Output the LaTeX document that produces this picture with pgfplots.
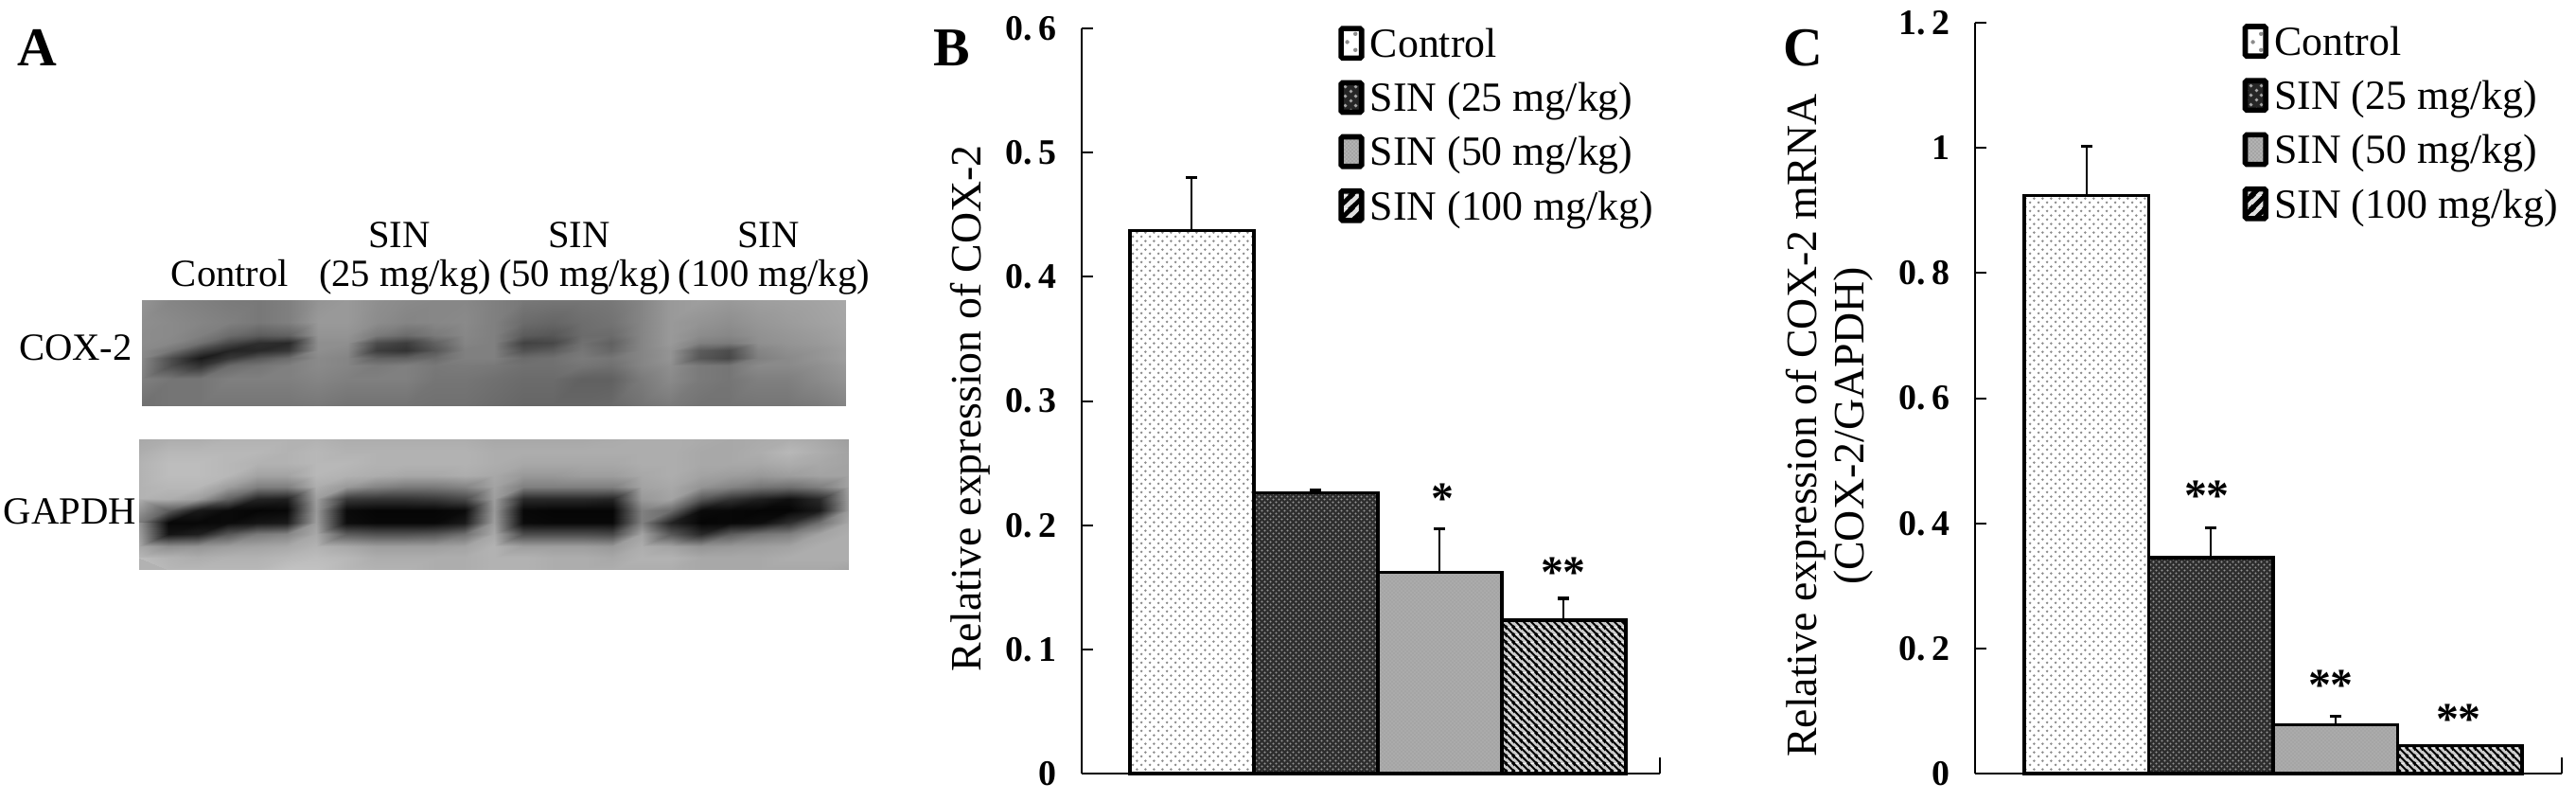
\documentclass[border=0pt]{standalone}
\usepackage{fontspec}
\setmainfont{Liberation Serif}
\usepackage{pgfplots}
\pgfplotsset{compat=1.18}
\usetikzlibrary{patterns}

% name, background, dot colour, tile, dot radius
\newcommand\dotpat[5]{%
  \pgfdeclarepatterninherentlycolored{#1}{\pgfqpoint{0bp}{0bp}}{\pgfqpoint{#4}{#4}}{\pgfqpoint{#4}{#4}}{%
    \pgfsetfillcolor{#2}\pgfpathrectangle{\pgfqpoint{0bp}{0bp}}{\pgfqpoint{#4}{#4}}\pgfusepath{fill}%
    \pgfsetfillcolor{#3}%
    \pgfpathcircle{\pgfqpoint{\dimexpr#4/4\relax}{\dimexpr#4/4\relax}}{#5}%
    \pgfpathcircle{\pgfqpoint{\dimexpr#4*3/4\relax}{\dimexpr#4*3/4\relax}}{#5}%
    \pgfusepath{fill}}}
% name, background, tile, line width: lines falling to the right
\newcommand\stripepat[4]{%
  \pgfdeclarepatterninherentlycolored{#1}{\pgfqpoint{0bp}{0bp}}{\pgfqpoint{#3}{#3}}{\pgfqpoint{#3}{#3}}{%
    \pgfsetfillcolor{#2}\pgfpathrectangle{\pgfqpoint{0bp}{0bp}}{\pgfqpoint{#3}{#3}}\pgfusepath{fill}%
    \pgfsetstrokecolor{black}\pgfsetlinewidth{#4}%
    \pgfpathmoveto{\pgfqpoint{\dimexpr-#3/4\relax}{\dimexpr#3*5/4\relax}}%
    \pgfpathlineto{\pgfqpoint{\dimexpr#3*5/4\relax}{\dimexpr-#3/4\relax}}%
    \pgfpathmoveto{\pgfqpoint{\dimexpr-#3/4\relax}{\dimexpr#3/4\relax}}%
    \pgfpathlineto{\pgfqpoint{\dimexpr#3/4\relax}{\dimexpr-#3/4\relax}}%
    \pgfpathmoveto{\pgfqpoint{\dimexpr#3*3/4\relax}{\dimexpr#3*5/4\relax}}%
    \pgfpathlineto{\pgfqpoint{\dimexpr#3*5/4\relax}{\dimexpr#3*3/4\relax}}%
    \pgfusepath{stroke}}}
% same, lines rising to the right
\newcommand\risepat[4]{%
  \pgfdeclarepatterninherentlycolored{#1}{\pgfqpoint{0bp}{0bp}}{\pgfqpoint{#3}{#3}}{\pgfqpoint{#3}{#3}}{%
    \pgfsetfillcolor{#2}\pgfpathrectangle{\pgfqpoint{0bp}{0bp}}{\pgfqpoint{#3}{#3}}\pgfusepath{fill}%
    \pgfsetstrokecolor{black}\pgfsetlinewidth{#4}%
    \pgfpathmoveto{\pgfqpoint{\dimexpr-#3/4\relax}{\dimexpr-#3/4\relax}}%
    \pgfpathlineto{\pgfqpoint{\dimexpr#3*5/4\relax}{\dimexpr#3*5/4\relax}}%
    \pgfpathmoveto{\pgfqpoint{\dimexpr-#3/4\relax}{\dimexpr#3*3/4\relax}}%
    \pgfpathlineto{\pgfqpoint{\dimexpr#3/4\relax}{\dimexpr#3*5/4\relax}}%
    \pgfpathmoveto{\pgfqpoint{\dimexpr#3*3/4\relax}{\dimexpr-#3/4\relax}}%
    \pgfpathlineto{\pgfqpoint{\dimexpr#3*5/4\relax}{\dimexpr#3/4\relax}}%
    \pgfusepath{stroke}}}

\dotpat{barctl}{white}{black!45}{2.3bp}{0.38bp}
\dotpat{barlow}{black!82}{black!42}{1.5bp}{0.3bp}
\dotpat{barmid}{black!33}{black!42}{1bp}{0.15bp}
\stripepat{barhigh}{black!20}{2bp}{0.55bp}
\dotpat{legctl}{white}{black!45}{4.2bp}{0.55bp}
\dotpat{leglow}{black!85}{black!35}{2.6bp}{0.5bp}
\dotpat{legmid}{black!30}{black!40}{1bp}{0.2bp}
\risepat{leghigh}{black!12}{3.4bp}{1.2bp}

\newcommand\txt{\fontsize{11}{13}\selectfont}
\newcommand\lanefont{\fontsize{10.2}{12}\selectfont}

\pgfplotsset{
  panel/.style={
    scale only axis, ybar, anchor=south west,
    axis x line=bottom, axis y line=left, axis line style={-,line width=0.5bp},
    xtick=\empty, ymin=0, tick align=inside, major tick length=3bp,
    tick style={black,line width=0.5bp},
    yticklabel style={inner sep=0pt,xshift=-6.5bp,font=\fontsize{9.5}{11}\selectfont\bfseries},
    ylabel style={font=\fontsize{11.5}{12.5}\selectfont,align=center,anchor=center},
    clip=false,
    legend cell align=left,
    legend style={draw=none,fill=none,inner sep=0pt,outer sep=0pt,anchor=north west,
      row sep=2.3bp,column sep=1.6bp,font=\txt,
      nodes={inner sep=0pt,text height=9bp,text depth=3bp}},
  },
  sinbar/.style={bar width=1,bar shift=0pt,draw=black,line width=0.8bp,pattern=#1,
    /pgfplots/error bars/y dir=plus,/pgfplots/error bars/y explicit,
    /pgfplots/error bars/error bar style={solid,black,line width=0.5bp},
    /pgfplots/error bars/error mark options={black,line width=0.8bp,mark size=1.5bp,rotate=90}},
  legbox/.style={legend image code/.code={%
    \draw[line width=1.4bp,draw=black,rounded corners=0.4bp,pattern=#1]
      (0bp,-3.2bp) rectangle (5.4bp,4.6bp);}},
}

\begin{document}
\begin{tikzpicture}
\path[use as bounding box] (0,0) rectangle (680.5bp,-211.5bp);

% panel A: the two blots, grey levels read off on a coarse grid
\begin{axis}[at={(0bp,-211.5bp)},anchor=south west,scale only axis,width=237.5bp,height=211.5bp,
  hide axis,xmin=0,xmax=950,ymin=0,ymax=846,y dir=reverse,clip=false,
  colormap={blot}{gray(0cm)=(0); gray(1cm)=(1)},point meta min=0,point meta max=1]
\addplot[draw=none,fill=black!55] coordinates {(150,317)(894,317)(894,428)(150,428)} --cycle;
\addplot[draw=none,fill=black!30] coordinates {(147,464)(897,464)(897,601.5)(147,601.5)} --cycle;
\addplot[surf,shader=interp,mesh/cols=25,point meta=\thisrowno{0}]
  table[row sep=crcr,header=false,x expr={150+31*mod(\coordindex,25)},
    y expr={\ifcase\numexpr(\coordindex-12)/25\relax 317\or 340\or 354\or 362\or 370\or 378\or 386\or 400\or 428\fi}] {
.58\\.52\\.50\\.48\\.47\\.50\\.58\\.60\\.56\\.54\\.53\\.53\\.50\\.47\\.46\\.46\\.47\\.52\\.60\\.62\\.60\\.62\\.63\\.64\\.66\\
.56\\.54\\.52\\.50\\.47\\.50\\.60\\.60\\.55\\.52\\.53\\.54\\.50\\.42\\.40\\.43\\.45\\.52\\.60\\.58\\.56\\.59\\.61\\.63\\.65\\
.55\\.54\\.50\\.42\\.36\\.38\\.58\\.58\\.48\\.42\\.48\\.53\\.50\\.36\\.34\\.42\\.42\\.52\\.60\\.55\\.53\\.57\\.59\\.61\\.64\\
.55\\.53\\.44\\.28\\.18\\.16\\.56\\.56\\.30\\.24\\.38\\.52\\.50\\.26\\.28\\.44\\.38\\.52\\.60\\.50\\.48\\.56\\.58\\.60\\.63\\
.54\\.46\\.26\\.14\\.16\\.22\\.56\\.54\\.24\\.20\\.34\\.50\\.50\\.32\\.36\\.46\\.40\\.52\\.58\\.36\\.30\\.52\\.56\\.58\\.62\\
.53\\.30\\.10\\.22\\.34\\.42\\.54\\.52\\.38\\.38\\.42\\.50\\.50\\.42\\.44\\.48\\.46\\.52\\.58\\.34\\.28\\.50\\.54\\.58\\.62\\
.52\\.30\\.20\\.42\\.46\\.50\\.54\\.52\\.48\\.50\\.47\\.48\\.47\\.44\\.44\\.46\\.44\\.52\\.56\\.48\\.46\\.54\\.54\\.56\\.60\\
.50\\.46\\.46\\.50\\.50\\.50\\.52\\.50\\.50\\.50\\.46\\.46\\.44\\.42\\.42\\.38\\.38\\.48\\.54\\.48\\.46\\.50\\.50\\.54\\.58\\
.44\\.46\\.46\\.46\\.46\\.46\\.47\\.45\\.45\\.45\\.44\\.44\\.42\\.40\\.40\\.40\\.41\\.45\\.48\\.45\\.45\\.46\\.46\\.48\\.52\\
};
\addplot[surf,shader=interp,mesh/cols=25,point meta=\thisrowno{0}]
  table[row sep=crcr,header=false,x expr={147+31.25*mod(\coordindex,25)},y expr={464+12.5*floor(\coordindex/25)}] {
.66\\.68\\.68\\.70\\.70\\.70\\.70\\.68\\.68\\.68\\.68\\.68\\.66\\.66\\.66\\.66\\.67\\.68\\.68\\.67\\.66\\.67\\.68\\.66\\.62\\
.68\\.72\\.72\\.72\\.72\\.70\\.72\\.70\\.70\\.70\\.70\\.70\\.68\\.68\\.68\\.68\\.68\\.68\\.68\\.66\\.66\\.68\\.72\\.68\\.64\\
.70\\.74\\.74\\.72\\.70\\.70\\.72\\.72\\.70\\.70\\.70\\.70\\.68\\.66\\.66\\.66\\.66\\.68\\.68\\.66\\.66\\.66\\.68\\.66\\.64\\
.70\\.74\\.74\\.72\\.64\\.64\\.72\\.70\\.68\\.66\\.66\\.68\\.66\\.60\\.60\\.62\\.62\\.66\\.68\\.64\\.62\\.60\\.62\\.64\\.64\\
.70\\.72\\.72\\.62\\.50\\.50\\.68\\.60\\.52\\.48\\.48\\.52\\.64\\.50\\.50\\.50\\.50\\.64\\.66\\.58\\.52\\.46\\.44\\.50\\.64\\
.70\\.68\\.62\\.38\\.14\\.12\\.62\\.22\\.20\\.20\\.22\\.28\\.62\\.16\\.16\\.16\\.14\\.60\\.64\\.34\\.20\\.12\\.06\\.16\\.62\\
.68\\.36\\.10\\.04\\.02\\.03\\.60\\.04\\.02\\.02\\.02\\.04\\.60\\.03\\.02\\.02\\.02\\.50\\.42\\.04\\.03\\.02\\.02\\.10\\.62\\
.48\\.03\\.03\\.04\\.08\\.10\\.62\\.05\\.03\\.03\\.03\\.10\\.62\\.04\\.03\\.03\\.03\\.50\\.14\\.02\\.03\\.05\\.18\\.44\\.66\\
.58\\.08\\.12\\.34\\.48\\.52\\.66\\.36\\.32\\.32\\.34\\.44\\.66\\.30\\.30\\.30\\.28\\.64\\.34\\.16\\.36\\.46\\.50\\.64\\.68\\
.66\\.56\\.58\\.62\\.64\\.66\\.70\\.66\\.62\\.62\\.62\\.64\\.70\\.62\\.62\\.62\\.60\\.68\\.64\\.58\\.60\\.62\\.64\\.68\\.68\\
.72\\.70\\.68\\.70\\.70\\.72\\.74\\.72\\.68\\.68\\.68\\.68\\.70\\.70\\.68\\.68\\.66\\.70\\.70\\.66\\.66\\.66\\.68\\.68\\.68\\
.74\\.72\\.72\\.72\\.72\\.76\\.76\\.72\\.70\\.70\\.68\\.68\\.70\\.70\\.68\\.68\\.68\\.68\\.68\\.66\\.66\\.66\\.66\\.66\\.64\\
};
\end{axis}

% panel B
\begin{axis}[panel,at={(285.75bp,-204.25bp)},width=152.75bp,height=196.75bp,
  xmin=0.111,xmax=4.775,ymax=0.6,
  ytick={0,0.1,0.2,0.3,0.4,0.5,0.6},yticklabels={0,0.\,1,0.\,2,0.\,3,0.\,4,0.\,5,0.\,6},
  ylabel={Relative expression of COX-2},
  ylabel style={at={(axis description cs:-0.193,0.49)}},
  legend style={at={(axis description cs:0.444,1.007)}}]
\addplot[sinbar=barctl,legbox=legctl] coordinates {(1,0.437) +- (0,0.043)};
\addplot[sinbar=barlow,legbox=leglow] coordinates {(2,0.226) +- (0,0.002)};
\addplot[sinbar=barmid,legbox=legmid] coordinates {(3,0.162) +- (0,0.035)};
\addplot[sinbar=barhigh,legbox=leghigh] coordinates {(4,0.1235) +- (0,0.0175)};
\legend{Control,SIN (25 mg/kg),SIN (50 mg/kg),SIN (100 mg/kg)}
\draw[line width=0.5bp] (axis cs:4.775,0) -- ++(0bp,4.25bp);
\end{axis}

% panel C
\begin{axis}[panel,at={(521.75bp,-204.25bp)},width=155bp,height=198.25bp,
  xmin=0.105,xmax=4.82,ymax=1.2,
  ytick={0,0.2,0.4,0.6,0.8,1,1.2},yticklabels={0,0.\,2,0.\,4,0.\,6,0.\,8,1,1.\,2},
  ylabel={Relative expression of COX-2 mRNA\\(COX-2/GAPDH)},
  ylabel style={at={(axis description cs:-0.248,0.463)}},
  legend style={at={(axis description cs:0.456,1.002)}}]
\addplot[sinbar=barctl,legbox=legctl] coordinates {(1,0.924) +- (0,0.078)};
\addplot[sinbar=barlow,legbox=leglow] coordinates {(2,0.345) +- (0,0.048)};
\addplot[sinbar=barmid,legbox=legmid] coordinates {(3,0.078) +- (0,0.014)};
\addplot[sinbar=barhigh,legbox=leghigh] coordinates {(4,0.045) +- (0,0)};
\legend{Control,SIN (25 mg/kg),SIN (50 mg/kg),SIN (100 mg/kg)}
\draw[line width=0.5bp] (axis cs:4.82,0) -- ++(0bp,4.25bp);
\end{axis}

% labels, in reference pixels
\begin{scope}[x=0.25bp,y=-0.25bp,every node/.style={inner sep=0pt,anchor=base}]
\node[font=\fontsize{14.5}{16}\selectfont\bfseries] at (39,69) {A};
\node[font=\fontsize{14.5}{16}\selectfont\bfseries] at (1006,69) {B};
\node[font=\fontsize{14.5}{16}\selectfont\bfseries] at (1905,69) {C};
\begin{scope}[every node/.append style={font=\lanefont}]
\node at (243,303) {Control};
\node at (422,262) {SIN};
\node at (428,303) {(25 mg/kg)};
\node at (612,262) {SIN};
\node at (618,303) {(50 mg/kg)};
\node at (812,262) {SIN};
\node at (818,303) {(100 mg/kg)};
\node at (80,381) {COX-2};
\node at (74,554) {GAPDH};
\end{scope}
\begin{scope}[every node/.append style={font=\fontsize{12}{14}\selectfont\bfseries}]
\node at (1524,543) {*};
\node at (1652,621) {**};
\node at (2332,540) {**};
\node at (2463,740) {**};
\node at (2598,776) {**};
\end{scope}
\end{scope}
\end{tikzpicture}
\end{document}
